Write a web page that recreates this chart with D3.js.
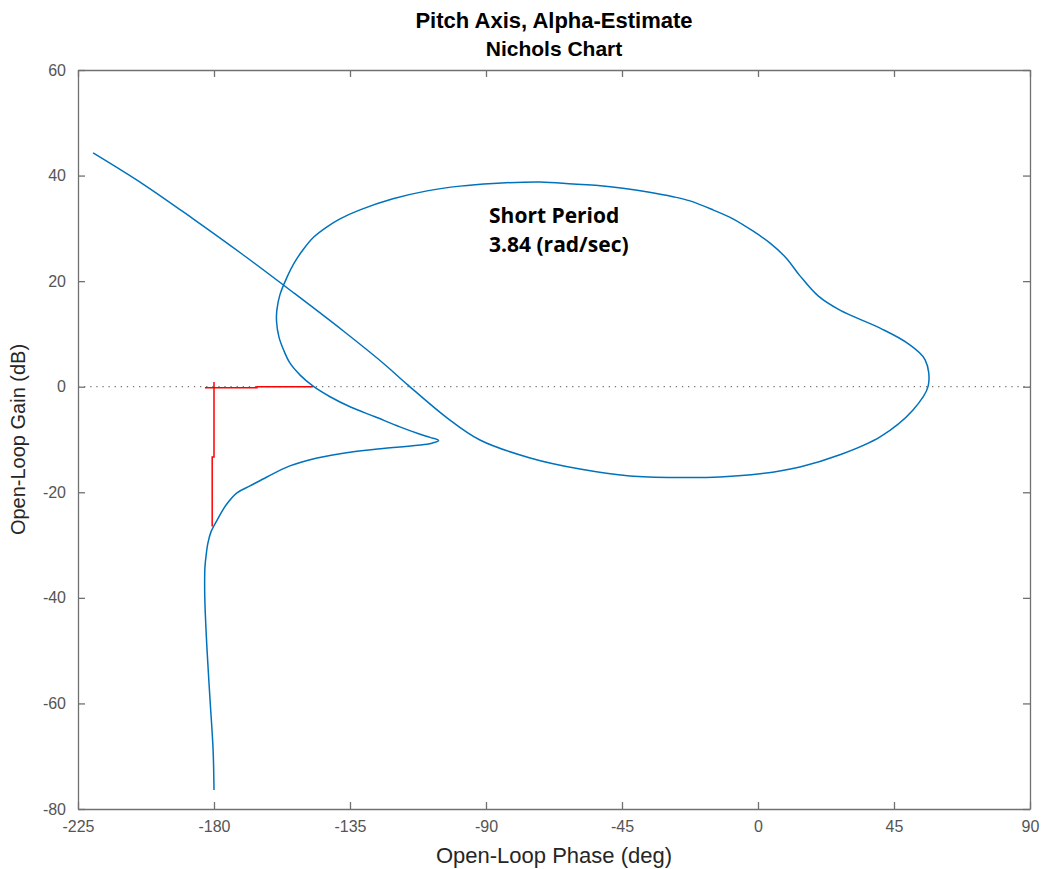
<!DOCTYPE html>
<html>
<head>
<meta charset="utf-8">
<script src="https://cdn.jsdelivr.net/npm/d3@7"></script>
<style>
  body { margin: 0; background: #fff; }
  svg { display: block; }
</style>
</head>
<body>
<svg id="chart" width="1048" height="869"></svg>
<script>
// ---- data ----
const titleMain = "Pitch Axis, Alpha-Estimate";
const titleSub = "Nichols Chart";
const xLabel = "Open-Loop Phase (deg)";
const yLabel = "Open-Loop Gain (dB)";
const xTicks = [-225, -180, -135, -90, -45, 0, 45, 90];
const yTicks = [60, 40, 20, 0, -20, -40, -60, -80];

// Nichols curve, in frequency order (phase in deg, gain in dB)
const phaseDeg = [-220.0, -203.5, -186.9, -170.4, -153.9, -137.3, -124.1, -115.8, -102.9, -92.0,
  -75.4, -58.9, -42.4, -25.8, -12.6, 0.7, 13.9, 27.1, 40.4, 51.3, 56.3, 55.3, 49.3, 40.4, 27.1,
  19.9, 13.9, 9.3, 4.0, -1.7, -8.3, -14.9, -22.5, -28.1, -36.4, -44.7, -52.9, -61.2, -72.1,
  -87.7, -98.6, -109.5, -120.8, -131.7, -138.3, -142.6, -146.9, -150.6, -153.5, -155.8,
  -158.2, -159.2, -159.3, -158.5, -157.0, -154.9, -151.5, -147.2, -141.6, -135.0, -126.7,
  -118.5, -111.8, -108.5, -105.7, -107.9, -109.5, -118.5, -124.1, -135.0, -145.9, -154.9,
  -162.5, -168.1, -172.4, -176.0, -179.0, -181.0, -182.0, -182.6, -183.0, -183.1, -183.0,
  -182.3, -181.3, -180.3, -180.0];
const gainDb = [44.3, 38.4, 31.8, 25.0, 17.9, 10.6, 4.5, 0.3, -5.9, -10.1,
  -13.5, -15.6, -16.9, -17.2, -17.1, -16.5, -15.2, -12.9, -9.5, -4.4, 0.1, 5.1, 8.3, 11.1, 14.5,
  17.2, 21.0, 24.4, 27.2, 29.5, 31.8, 33.5, 35.2, 36.0, 36.9, 37.6, 38.1, 38.4, 38.8,
  38.5, 38.0, 37.1, 35.6, 33.5, 31.8, 30.3, 28.4, 25.9, 23.4, 20.8,
  17.4, 14.5, 12.3, 9.4, 7.0, 4.5, 2.2, 0.1, -1.9, -3.8, -5.7,
  -7.6, -9.0, -9.6, -10.2, -10.7, -10.9, -11.4, -11.7, -12.4, -13.5, -15.0,
  -17.1, -18.8, -20.1, -22.4, -25.3, -27.5, -29.6, -31.9, -34.2, -37.6, -41.0,
  -49.9, -59.4, -68.8, -76.4];

// stability-margin indicator (red)
const gmPhase = [-180.0, -180.0, -180.6, -180.6];
const gmGain = [0.9, -13.3, -13.3, -26.5];
const pmPhase = [-183.0, -165.8, -165.8, -147.2];
const pmGain = [-0.2, -0.2, 0.0, 0.0];

const noteLines = ["Short Period", "3.84 (rad/sec)"];
const notePhase = -89.0;
const noteGain = 31.0;

// ---- layout ----
const svg = d3.select("#chart");
const L = 78, R = 1030, T = 70, B = 809;
const x = d3.scaleLinear().domain([-225, 90]).range([L, R]);
const y = d3.scaleLinear().domain([-80, 60]).range([B, T]);

const axisColor = "#707070";
const tickColor = "#555";
const font = "'Liberation Sans', Arial, sans-serif";
const fmt = d => String(d);

// 0 dB dotted line
svg.append("line")
  .attr("x1", x(-225)).attr("x2", x(90)).attr("y1", y(0)).attr("y2", y(0))
  .attr("stroke", "#777").attr("stroke-width", 1.2).attr("stroke-dasharray", "1.3,4.8");

// axes (box with inward ticks)
const tickLen = 7;
const gB = svg.append("g").attr("transform", `translate(0,${B})`)
  .call(d3.axisBottom(x).tickValues(xTicks).tickSizeInner(-tickLen).tickSizeOuter(0).tickPadding(12).tickFormat(fmt));
const gT = svg.append("g").attr("transform", `translate(0,${T})`)
  .call(d3.axisTop(x).tickValues(xTicks).tickSizeInner(-tickLen).tickSizeOuter(0).tickFormat(""));
const gL = svg.append("g").attr("transform", `translate(${L},0)`)
  .call(d3.axisLeft(y).tickValues(yTicks).tickSizeInner(-tickLen).tickSizeOuter(0).tickPadding(12).tickFormat(fmt));
const gR = svg.append("g").attr("transform", `translate(${R},0)`)
  .call(d3.axisRight(y).tickValues(yTicks).tickSizeInner(-tickLen).tickSizeOuter(0).tickFormat(""));

[gB, gT, gL, gR].forEach(g => {
  g.select(".domain").attr("stroke", axisColor).attr("stroke-width", 1.3);
  g.selectAll(".tick line").attr("stroke", axisColor).attr("stroke-width", 1.3);
  g.selectAll(".tick text").attr("fill", tickColor).attr("font-family", font).attr("font-size", 16);
});
gB.selectAll(".tick text").attr("dy", "0.71em");

// curves
const smooth = d3.line().x(d => x(d[0])).y(d => y(d[1])).curve(d3.curveCatmullRom.alpha(0.5));
const straight = d3.line().x(d => x(d[0])).y(d => y(d[1]));

svg.append("path").datum(d3.zip(gmPhase, gmGain)).attr("d", straight)
  .attr("fill", "none").attr("stroke", "#ff0000").attr("stroke-width", 1.5);
svg.append("path").datum(d3.zip(pmPhase, pmGain)).attr("d", straight)
  .attr("fill", "none").attr("stroke", "#ff0000").attr("stroke-width", 1.5);

svg.append("path").datum(d3.zip(phaseDeg, gainDb)).attr("d", smooth)
  .attr("fill", "none").attr("stroke", "#0072BD").attr("stroke-width", 1.5)
  .attr("stroke-linejoin", "round");

// annotation
const note = svg.append("text").attr("x", x(notePhase)).attr("y", y(noteGain))
  .attr("font-family", "'Open Sans', sans-serif").attr("font-weight", "bold")
  .attr("font-size", 21).attr("fill", "#000");
noteLines.forEach((t, i) => note.append("tspan").attr("x", x(notePhase)).attr("dy", i ? 29 : 0).text(t));

// titles and labels
const cx = (L + R) / 2;
svg.append("text").attr("x", cx).attr("y", 28).attr("text-anchor", "middle")
  .attr("font-family", font).attr("font-weight", "bold").attr("font-size", 22).attr("fill", "#000")
  .text(titleMain);
svg.append("text").attr("x", cx).attr("y", 56).attr("text-anchor", "middle")
  .attr("font-family", font).attr("font-weight", "bold").attr("font-size", 21).attr("fill", "#000")
  .text(titleSub);

svg.append("text").attr("x", cx).attr("y", 863).attr("text-anchor", "middle")
  .attr("font-family", font).attr("font-size", 22).attr("fill", "#262626").text(xLabel);
svg.append("text").attr("transform", `translate(25,${(T + B) / 2}) rotate(-90)`)
  .attr("text-anchor", "middle")
  .attr("font-family", font).attr("font-size", 20).attr("fill", "#262626").text(yLabel);
</script>
</body>
</html>
